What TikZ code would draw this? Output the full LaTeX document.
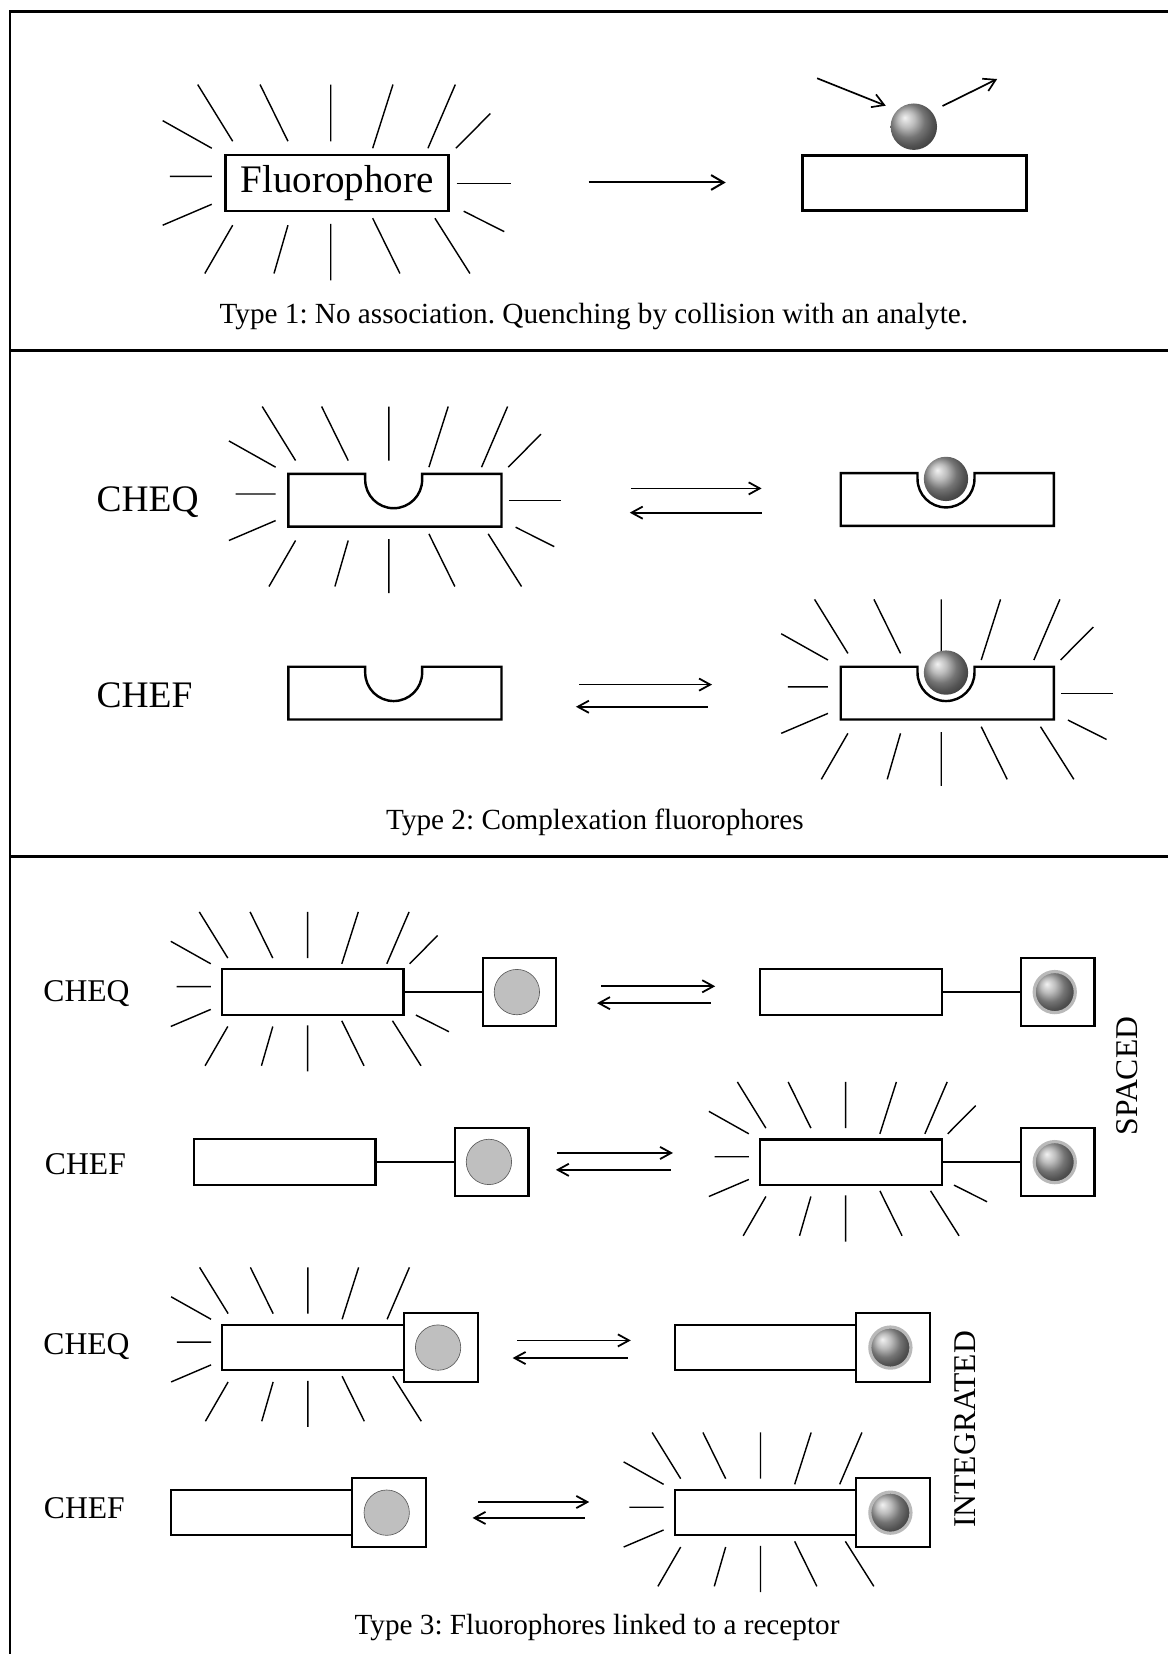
\documentclass[tikz,border=0pt]{standalone}
\usepackage{fontspec}
\setmainfont{Liberation Serif}
\usetikzlibrary{arrows.meta,positioning}
\frenchspacing

\tikzset{
  border line/.style={line width=2.8pt},
  ray/.style={line width=1.35pt},
  react/.style={line width=1.9pt,-{Straight Barb[length=12pt,width=14pt]}},
  hit/.style={line width=1.6pt,-{Straight Barb[length=11pt,width=13pt]}},
  eq/.style={line width=1.7pt,-{Straight Barb[length=10.5pt,width=11.5pt]}},
  bigbox/.style={draw,line width=2.5pt,inner sep=0pt,outer sep=0pt},
  fluo/.style={draw,line width=2pt,inner sep=0pt,outer sep=0pt,
    minimum width=172pt,minimum height=43pt},
  site/.style={draw,line width=2pt,inner sep=0pt,outer sep=0pt,
    minimum width=70pt,minimum height=65pt},
  link/.style={line width=2pt},
  free/.style={circle,fill=gray!50,draw=gray!70!black,line width=0.6pt,
    minimum size=43pt,inner sep=0pt},
  bound/.style={circle,ball color=gray!70,draw=gray!55,line width=3pt,
    minimum size=39pt,inner sep=0pt},
  analyte/.style={circle,ball color=gray!70,minimum size=42pt,inner sep=0pt},
  big tag/.style={font=\fontsize{35.5}{40}\selectfont},
  small tag/.style={font=\fontsize{30}{34}\selectfont},
  cap text/.style={font=\fontsize{27.7}{32}\selectfont},
  % glow around a fluorophore, left, top and bottom rays
  rays core/.pic={
    \draw[ray] (-125.8,-88.9) -- (-94.2,-37.7)
      (-69.5,-88.9) -- (-44.3,-37.7)
      (-5.7,-88.9) -- (-5.7,-37.7)
      (50.5,-88.9) -- (32.2,-31.4)
      (106.8,-88.9) -- (82.1,-31.4)
      (-157.4,-56.3) -- (-113.1,-31.4)
      (-151,-6) -- (-113.1,-6)
      (-113.1,19.2) -- (-157.4,38.1)
      (-94.2,38.1) -- (-119.4,81.7)
      (-44.3,38.1) -- (-56.9,81.7)
      (-5.7,36.9) -- (-5.7,88)
      (32.2,31.8) -- (56.8,81.7)
      (88.4,31.8) -- (120,81.7);
  },
  rays corner/.pic={
    \draw[ray] (138.4,-62.7) -- (107.4,-31.4)
      (114.4,25.5) -- (151,43.9);
  },
  rays side/.pic={
    \draw[ray] (108,0.25) -- (157.3,0.25);
  },
  % host with a binding pocket
  notched/.pic={
    \draw[line width=2.3pt] (-101,-25) -- (-28.2,-25) -- ++(0,5.5)
      arc[start angle=180,end angle=0,radius=27] -- (25.8,-25) -- (101,-25)
      -- (101,25) -- (-101,25) -- cycle;
  },
}

\begin{document}
\begin{tikzpicture}[x=1pt,y=-1pt]
\useasboundingbox (0,0) rectangle (1107,1568);

% frame and separators
\draw[border line] (1107,10.5) -- (9.5,10.5) -- (9.5,1568);
\draw[border line] (9.5,332) -- (1107,332);
\draw[border line] (9.5,812) -- (1107,812);

% type 1
\node[bigbox,minimum width=211pt,minimum height=53pt,
  font=\fontsize{37}{40}\selectfont] (fluor) at (319.5,173.5) {Fluorophore};
\pic[scale=1.05] at (fluor) {rays core};
\pic[scale=1.05] at (fluor) {rays corner};
\pic[scale=1.05] at (fluor) {rays side};

\coordinate (r0) at (558,173);
\coordinate (r1) at (688,173);
\draw[react] (r0) -- (r1);

\node[bigbox,minimum width=212pt,minimum height=52pt] (host) at (867,173.6) {};
\node[analyte,minimum size=44pt] (quencher) at (866.3,120.1) {};
\coordinate (in0) at (774.6,74.2);
\coordinate (out1) at (945.3,74.9);
\draw[hit] (in0) -- (839.7,100.2);
\draw[hit] (893.5,100.5) -- (out1);

\node[cap text] (cap1) at (563,300)
  {Type 1: No association. Quenching by collision with an analyte.};

% type 2
\node[big tag] (cheq2) at (140,476) {CHEQ};
\pic at (374.4,474.3) {notched};
\pic at (374.4,474.3) {rays core};
\pic at (374.4,474.3) {rays corner};
\pic at (374.4,474.3) {rays side};

\coordinate (q2a) at (598,463);
\coordinate (q2b) at (722,463);
\coordinate (q2c) at (722,486);
\coordinate (q2d) at (597,486);
\draw[eq] (q2a) -- (q2b);
\draw[eq] (q2c) -- (q2d);

\pic at (898,473.5) {notched};
\node[analyte] (ion2a) at (896.8,454) {};

\node[big tag] (chef2) at (137,659) {CHEF};
\pic at (374.4,657.1) {notched};

\coordinate (f2a) at (549,649);
\coordinate (f2b) at (675,649);
\coordinate (f2c) at (671,670);
\coordinate (f2d) at (546,670);
\draw[eq] (f2a) -- (f2b);
\draw[eq] (f2c) -- (f2d);

\pic at (898,657.1) {notched};
\pic at (898,657.1) {rays core};
\pic at (898,657.1) {rays corner};
\pic at (898,657.1) {rays side};
\node[analyte] (ion2b) at (896.8,637.6) {};

\node[cap text] (cap2) at (564,780) {Type 2: Complexation fluorophores};

% type 3, spaced
\node[small tag] (cheq3) at (82,942) {CHEQ};
\node[fluo] (fl1) at (296.5,940.5) {};
\node[site,right=75pt of fl1] (st1) {};
\draw[link] (fl1.east) -- (st1.west);
\node[free,xshift=-2.5pt] (fr1) at (st1) {};
\pic[scale=0.855] at (fl1) {rays core};
\pic[scale=0.855] at (fl1) {rays corner};

\coordinate (e1a) at (570,935);
\coordinate (e1b) at (678,935);
\coordinate (e1c) at (674,951);
\coordinate (e1d) at (566,951);
\draw[eq] (e1a) -- (e1b);
\draw[eq] (e1c) -- (e1d);

\node[fluo] (fr1f) at (806.6,940.5) {};
\node[site,right=75pt of fr1f] (st1r) {};
\draw[link] (fr1f.east) -- (st1r.west);
\node[bound,xshift=-2.7pt] (bd1) at (st1r) {};

\node[small tag] (chef3) at (81,1104) {CHEF};
\node[fluo] (fl2) at (270,1101.5) {};
\node[site,right=75pt of fl2] (st2) {};
\draw[link] (fl2.east) -- (st2.west);
\node[free,xshift=-2.5pt] (fr2) at (st2) {};

\coordinate (e2a) at (528,1093);
\coordinate (e2b) at (638,1093);
\coordinate (e2c) at (636,1109);
\coordinate (e2d) at (527,1109);
\draw[eq] (e2a) -- (e2b);
\draw[eq] (e2c) -- (e2d);

\node[fluo] (fr2f) at (806.6,1101.7) {};
\node[site,right=75pt of fr2f] (st2r) {};
\draw[link] (fr2f.east) -- (st2r.west);
\node[bound,xshift=-2.7pt] (bd2) at (st2r) {};
\pic[scale=0.855] at (fr2f) {rays core};
\pic[scale=0.855] at (fr2f) {rays corner};

\node[small tag,rotate=90] (spaced) at (1069,1020) {SPACED};

% type 3, integrated
\node[small tag] (cheq4) at (82,1277) {CHEQ};
\node[fluo] (fl3) at (296.8,1277.5) {};
\node[site,right=0pt of fl3] (st3) {};
\node[free,xshift=-2.5pt] (fr3) at (st3) {};
\pic[scale=0.855] at (fl3) {rays core};

\coordinate (e3a) at (490.4,1270.7);
\coordinate (e3b) at (598,1270.7);
\coordinate (e3c) at (595,1287.4);
\coordinate (e3d) at (486,1287.4);
\draw[eq] (e3a) -- (e3b);
\draw[eq] (e3c) -- (e3d);

\node[fluo] (fr3f) at (725.8,1277.5) {};
\node[site,right=0pt of fr3f] (st3r) {};
\node[bound,xshift=-2.7pt] (bd3) at (st3r) {};

\node[small tag] (chef4) at (80,1430) {CHEF};
\node[fluo] (fl4) at (248.1,1434) {};
\node[site,right=0pt of fl4] (st4) {};
\node[free,xshift=-2.5pt] (fr4) at (st4) {};

\coordinate (e4a) at (453.4,1423.9);
\coordinate (e4b) at (558.6,1423.9);
\coordinate (e4c) at (554.2,1439);
\coordinate (e4d) at (448,1439);
\draw[eq] (e4a) -- (e4b);
\draw[eq] (e4c) -- (e4d);

\node[fluo] (fr4f) at (725.8,1434) {};
\node[site,right=0pt of fr4f] (st4r) {};
\node[bound,xshift=-2.7pt] (bd4) at (st4r) {};
\pic[scale=0.855] at (fr4f) {rays core};

\node[small tag,rotate=90] (integ) at (914.7,1355) {INTEGRATED};

\node[cap text] (cap3) at (566,1543) {Type 3: Fluorophores linked to a receptor};

\end{tikzpicture}
\end{document}
